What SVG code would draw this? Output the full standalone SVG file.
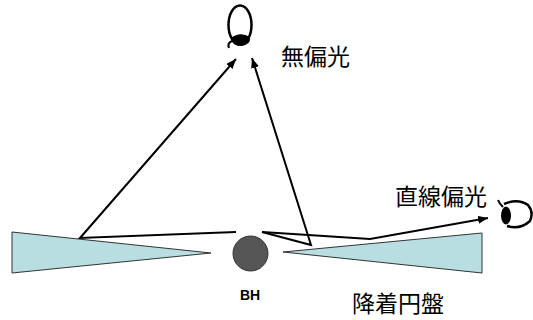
<svg xmlns="http://www.w3.org/2000/svg" width="533" height="320" viewBox="0 0 533 320">
  <style>
    .disk { fill: #b8dee2; stroke: #333; stroke-width: 1; }
    .ray { fill: none; stroke: #000; stroke-width: 2; stroke-linejoin: miter; }
    .jp { font-family: "Noto Sans CJK JP", "Noto Sans CJK SC", sans-serif; font-size: 23px; fill: #000; }
    .lbl { font-family: "Liberation Sans", Arial, sans-serif; font-size: 14px; font-weight: bold; fill: #000; }
    .eye { fill: none; stroke: #000; stroke-width: 2.5; }
  </style>
  <defs>
    <marker id="arrow" viewBox="0 0 10 8" refX="10" refY="4" markerWidth="10" markerHeight="8" markerUnits="userSpaceOnUse" orient="auto">
      <path d="M0,0 L10,4 L0,8 Z" fill="#000"/>
    </marker>
  </defs>

  <!-- accretion disk, left half -->
  <g id="disk-left">
    <polygon class="disk" points="12,232 211,253 12,273"/>
  </g>

  <!-- accretion disk, right half -->
  <g id="disk-right">
    <polygon class="disk" points="283,252 482,233 482,273"/>
  </g>

  <!-- black hole -->
  <g id="bh">
    <circle cx="250.5" cy="253.5" r="17.5" fill="#555" stroke="#333" stroke-width="1"/>
    <text class="lbl" x="250" y="300" text-anchor="middle">BH</text>
  </g>

  <!-- observer above the disk -->
  <g id="eye-top">
    <ellipse class="eye" cx="240" cy="25" rx="11.5" ry="19.5"/>
    <path d="M231,38 Q240,31 250,37 Q251,45 241,46 Q232,46 231,38 Z" fill="#000"/>
    <path d="M232,41 Q227,43 229,48" fill="none" stroke="#000" stroke-width="2"/>
  </g>
  <text id="label-unpolarized" class="jp" x="281" y="64.5">無偏光</text>

  <!-- observer in the disk plane -->
  <g id="eye-side">
    <path d="M504,204 Q518,198 528,205 Q534,212 530,221 Q520,230 507,226" class="eye"/>
    <ellipse cx="506" cy="215.5" rx="5" ry="9" fill="#000"/>
    <path d="M503,207 Q499,203 498,200" fill="none" stroke="#000" stroke-width="2"/>
  </g>
  <text id="label-linear" class="jp" x="395" y="204.5">直線偏光</text>

  <text id="label-disk" class="jp" x="352" y="311.5" font-size="24">降着円盤</text>

  <!-- light paths -->
  <g id="connectors">
    <polyline class="ray" points="236,232 80,238 236,59" marker-end="url(#arrow)"/>
    <polyline class="ray" points="262,232 311,245 252,58" marker-end="url(#arrow)"/>
    <polyline class="ray" points="262,232 370,239 488,218" marker-end="url(#arrow)"/>
  </g>
</svg>
